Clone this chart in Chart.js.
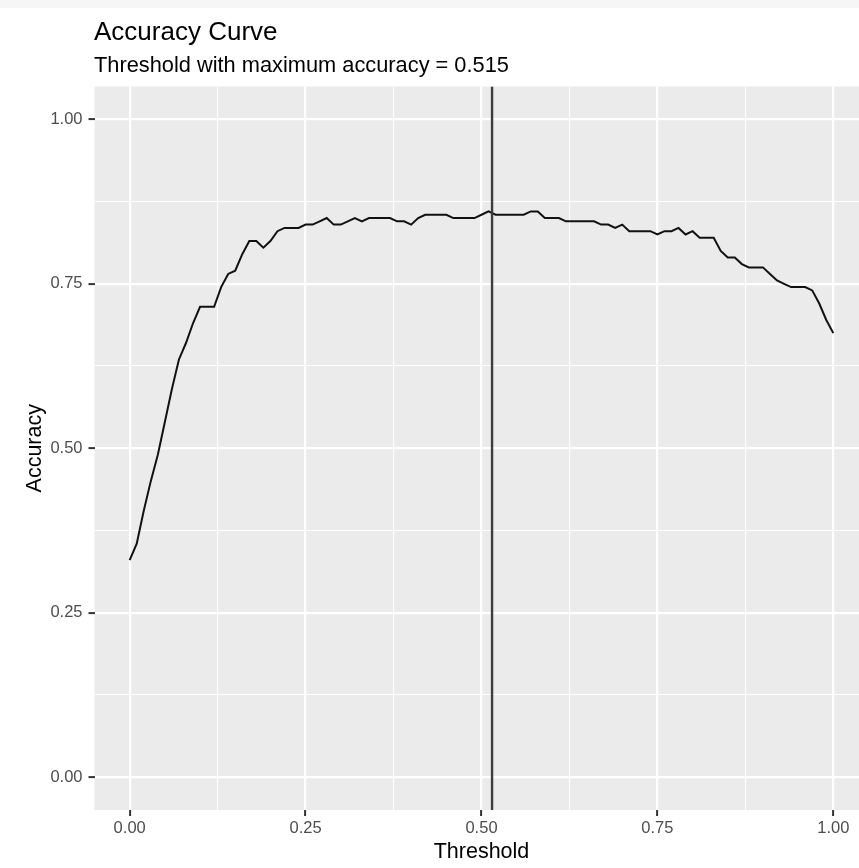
<!DOCTYPE html>
<html>
<head>
<meta charset="utf-8">
<script src="https://cdn.jsdelivr.net/npm/chart.js@4.4.1/dist/chart.umd.min.js"></script>
<style>
  html, body { margin: 0; padding: 0; background: #ffffff; overflow: hidden; }
  #strip { position: absolute; left: 0; top: 0; width: 100%; height: 8px; background: #f6f6f6; }
  #grafico { position: absolute; left: 0; top: 0; }
</style>
</head>
<body>
<div id="strip"></div>
<canvas id="grafico" width="880" height="868"></canvas>
<script>
// dados
const thresholds = [
  0.00, 0.01, 0.02, 0.03, 0.04, 0.05, 0.06, 0.07, 0.08, 0.09,
  0.10, 0.11, 0.12, 0.13, 0.14, 0.15, 0.16, 0.17, 0.18, 0.19,
  0.20, 0.21, 0.22, 0.23, 0.24, 0.25, 0.26, 0.27, 0.28, 0.29,
  0.30, 0.31, 0.32, 0.33, 0.34, 0.35, 0.36, 0.37, 0.38, 0.39,
  0.40, 0.41, 0.42, 0.43, 0.44, 0.45, 0.46, 0.47, 0.48, 0.49,
  0.50, 0.51, 0.52, 0.53, 0.54, 0.55, 0.56, 0.57, 0.58, 0.59,
  0.60, 0.61, 0.62, 0.63, 0.64, 0.65, 0.66, 0.67, 0.68, 0.69,
  0.70, 0.71, 0.72, 0.73, 0.74, 0.75, 0.76, 0.77, 0.78, 0.79,
  0.80, 0.81, 0.82, 0.83, 0.84, 0.85, 0.86, 0.87, 0.88, 0.89,
  0.90, 0.91, 0.92, 0.93, 0.94, 0.95, 0.96, 0.97, 0.98, 0.99,
  1.00
];
const accuracy = [
  0.330, 0.355, 0.405, 0.450, 0.490, 0.540, 0.590, 0.635, 0.660, 0.690,
  0.715, 0.715, 0.715, 0.745, 0.765, 0.770, 0.795, 0.815, 0.815, 0.805,
  0.815, 0.830, 0.835, 0.835, 0.835, 0.840, 0.840, 0.845, 0.850, 0.840,
  0.840, 0.845, 0.850, 0.845, 0.850, 0.850, 0.850, 0.850, 0.845, 0.845,
  0.840, 0.850, 0.855, 0.855, 0.855, 0.855, 0.850, 0.850, 0.850, 0.850,
  0.855, 0.860, 0.855, 0.855, 0.855, 0.855, 0.855, 0.860, 0.860, 0.850,
  0.850, 0.850, 0.845, 0.845, 0.845, 0.845, 0.845, 0.840, 0.840, 0.835,
  0.840, 0.830, 0.830, 0.830, 0.830, 0.825, 0.830, 0.830, 0.835, 0.825,
  0.830, 0.820, 0.820, 0.820, 0.800, 0.790, 0.790, 0.780, 0.775, 0.775,
  0.775, 0.765, 0.755, 0.750, 0.745, 0.745, 0.745, 0.740, 0.720, 0.695,
  0.675
];
const bestThreshold = 0.515;
const xMajor = [0, 0.25, 0.5, 0.75, 1];
const xMinor = [0.125, 0.375, 0.625, 0.875];
const yMajor = [0, 0.25, 0.5, 0.75, 1];
const yMinor = [0.125, 0.375, 0.625, 0.875];

const fonte = '"Liberation Sans", Arial, Helvetica, sans-serif';

function ehMajor(lista, v) {
  return lista.some(m => Math.abs(m - v) < 1e-6);
}

function montaTicks(major, minor) {
  return function (scale) {
    scale.ticks = major.concat(minor).sort((a, b) => a - b).map(v => ({ value: v }));
  };
}

// fundo cinza do painel e titulos no estilo ggplot
const painelPlugin = {
  id: 'painel',
  beforeDraw(chart) {
    const { ctx, chartArea } = chart;
    ctx.save();
    ctx.fillStyle = '#ebebeb';
    ctx.fillRect(chartArea.left, chartArea.top, chartArea.right - chartArea.left, chartArea.bottom - chartArea.top);
    ctx.restore();
  },
  afterDraw(chart) {
    const ctx = chart.ctx;
    ctx.save();
    ctx.fillStyle = '#000000';
    ctx.textAlign = 'left';
    ctx.textBaseline = 'alphabetic';
    ctx.font = '26px ' + fonte;
    ctx.fillText('Accuracy Curve', 94, 39.5);
    ctx.font = '21.8px ' + fonte;
    ctx.fillText('Threshold with maximum accuracy = ' + bestThreshold, 94, 72);
    ctx.restore();
  }
};

const pontos = thresholds.map((t, i) => ({ x: t, y: accuracy[i] }));

const gradeX = {
  color: '#ffffff',
  lineWidth: c => (c.tick && ehMajor(xMajor, c.tick.value)) ? 2.2 : 1.1,
  tickColor: c => (c.tick && ehMajor(xMajor, c.tick.value)) ? '#333333' : 'rgba(0,0,0,0)',
  tickWidth: 2,
  tickLength: 6
};
const gradeY = {
  color: '#ffffff',
  lineWidth: c => (c.tick && ehMajor(yMajor, c.tick.value)) ? 2.2 : 1.1,
  tickColor: c => (c.tick && ehMajor(yMajor, c.tick.value)) ? '#333333' : 'rgba(0,0,0,0)',
  tickWidth: 2,
  tickLength: 6
};

new Chart(document.getElementById('grafico'), {
  type: 'line',
  data: {
    datasets: [
      {
        label: 'best',
        data: [{ x: bestThreshold, y: -0.05 }, { x: bestThreshold, y: 1.05 }],
        borderColor: '#3d3d3d',
        borderWidth: 2.4,
        pointRadius: 0,
        tension: 0
      },
      {
        label: 'Accuracy',
        data: pontos,
        borderColor: '#111111',
        borderWidth: 2,
        pointRadius: 0,
        tension: 0
      }
    ]
  },
  options: {
    responsive: false,
    animation: false,
    devicePixelRatio: 1,
    layout: { padding: { top: 86.5, right: 11.5, left: 0, bottom: 0 } },
    plugins: {
      legend: { display: false },
      tooltip: { enabled: false },
      title: { display: false }
    },
    scales: {
      x: {
        type: 'linear',
        min: -0.05,
        max: 1.05,
        afterBuildTicks: montaTicks(xMajor, xMinor),
        afterFit: s => { s.height = 58; },
        ticks: {
          autoSkip: false,
          maxRotation: 0,
          padding: 3,
          color: '#4d4d4d',
          font: { family: fonte, size: 16.5 },
          callback: v => ehMajor(xMajor, v) ? v.toFixed(2) : ''
        },
        grid: gradeX,
        border: { display: false },
        title: {
          display: true,
          text: 'Threshold',
          color: '#000000',
          font: { family: fonte, size: 21.5 },
          padding: { top: 0, bottom: 3 }
        }
      },
      y: {
        type: 'linear',
        min: -0.05,
        max: 1.05,
        afterBuildTicks: montaTicks(yMajor, yMinor),
        afterFit: s => { s.width = 94.5; },
        ticks: {
          autoSkip: false,
          padding: 6,
          color: '#4d4d4d',
          font: { family: fonte, size: 16.5 },
          callback: v => ehMajor(yMajor, v) ? v.toFixed(2) : ''
        },
        grid: gradeY,
        border: { display: false },
        title: {
          display: true,
          text: 'Accuracy',
          color: '#000000',
          font: { family: fonte, size: 21.5 },
          padding: { top: 22, bottom: 0 }
        }
      }
    }
  },
  plugins: [painelPlugin]
});
</script>
</body>
</html>
